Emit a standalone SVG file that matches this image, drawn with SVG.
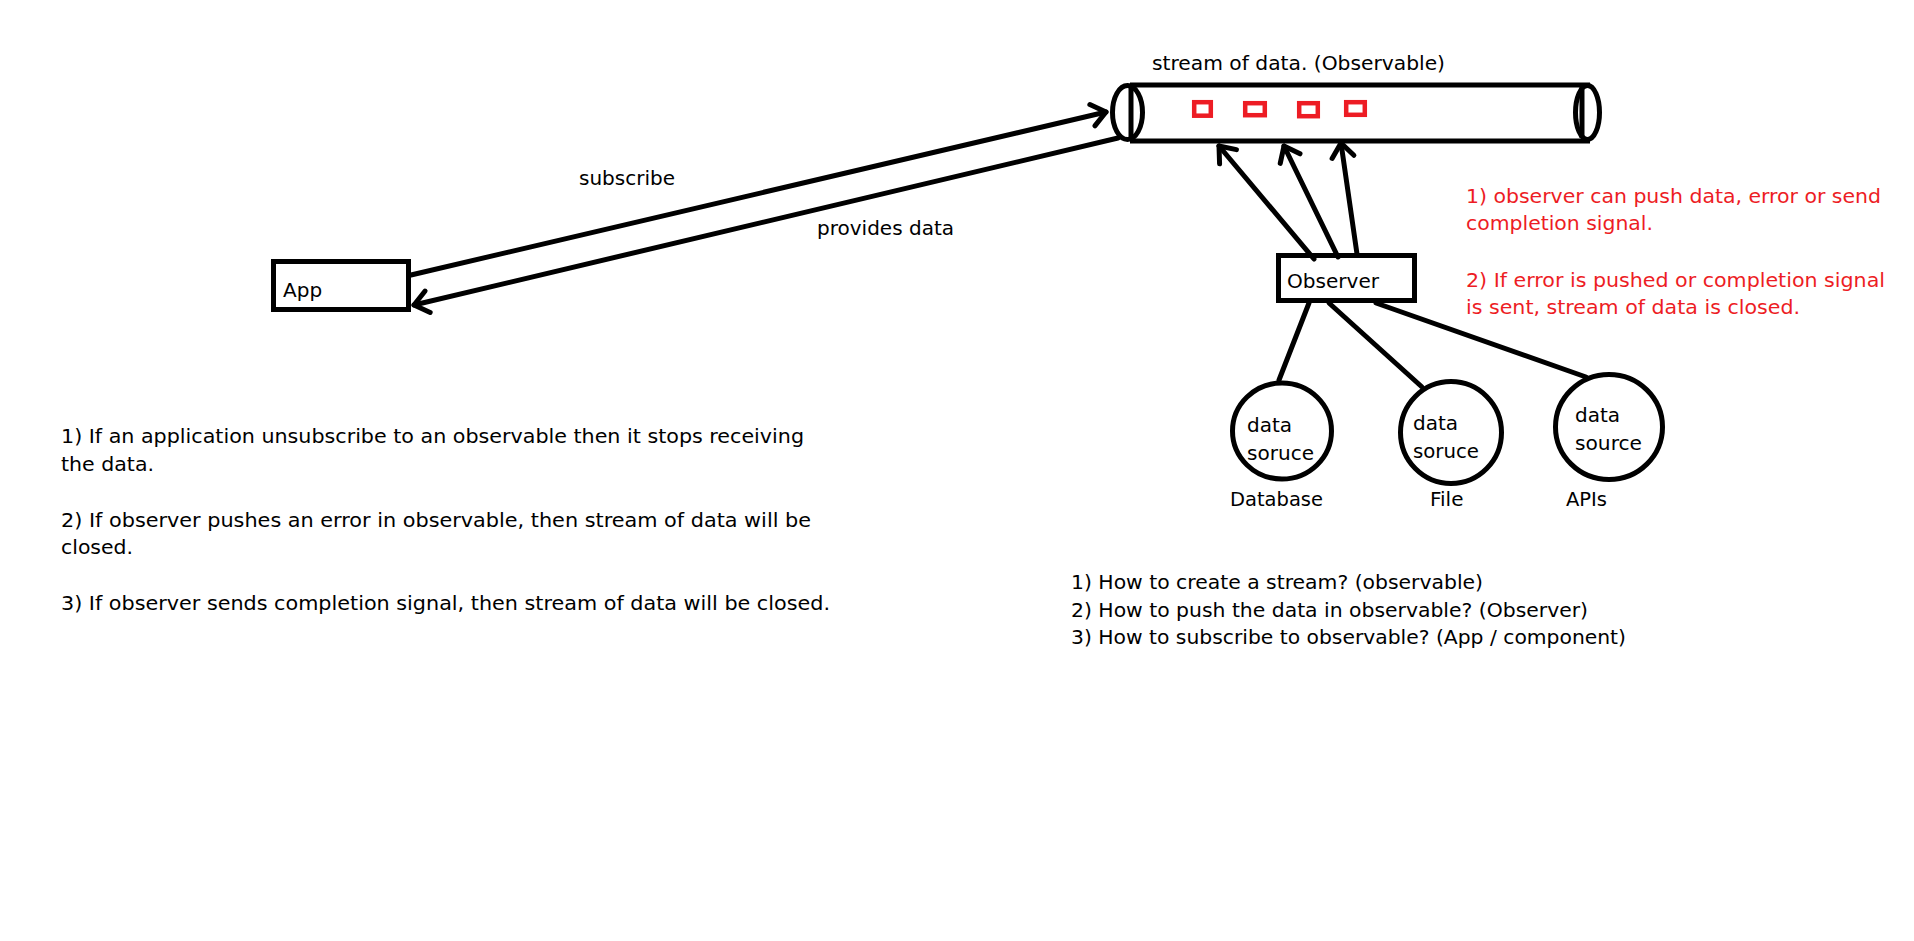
<svg xmlns="http://www.w3.org/2000/svg" width="1914" height="941" viewBox="0 0 1914 941">
<style>
.t{font-family:"DejaVu Sans","Liberation Sans",sans-serif;font-size:20px;fill:#000}
.r{fill:#ed1c24}
.s{fill:none;stroke:#000;stroke-width:5}
.c{fill:none;stroke:#000;stroke-width:5;stroke-linecap:round}
.red{fill:#fff;stroke:#ed1c24;stroke-width:4.5}
</style>
<defs>
<marker id="ah" markerUnits="userSpaceOnUse" viewBox="-20 -16 24 32" markerWidth="24" markerHeight="32" refX="0" refY="0" orient="auto" overflow="visible">
<path d="M-14,-11 L0,0 L-14,11" fill="none" stroke="#000" stroke-width="5" stroke-linejoin="round" stroke-linecap="round"/>
</marker>
</defs>
<rect width="1914" height="941" fill="#fff"/>
<g id="observable">
<line class="s" x1="1130" y1="85" x2="1590" y2="85"/>
<line class="s" x1="1130" y1="141" x2="1590" y2="141"/>
<ellipse class="s" cx="1127.5" cy="112.5" rx="15" ry="27" fill="#fff"/>
<line class="s" x1="1131" y1="86" x2="1131" y2="140"/>
<ellipse class="s" cx="1587.5" cy="112.5" rx="12" ry="27"/>
<line class="s" x1="1582" y1="87" x2="1582" y2="138"/>
<rect class="red" x="1194.2" y="102.2" width="16.6" height="13.5"/>
<rect class="red" x="1245.2" y="103.2" width="19.6" height="12"/>
<rect class="red" x="1299.2" y="103.2" width="18.6" height="13"/>
<rect class="red" x="1346.2" y="102.2" width="18.6" height="12.6"/>
<text class="t" x="1152" y="70" textLength="293" lengthAdjust="spacingAndGlyphs">stream of data. (Observable)</text>
</g>
<g id="app">
<rect class="s" x="273.5" y="261.5" width="135" height="48"/>
<text class="t" x="283" y="297">App</text>
</g>
<g id="observer">
<rect class="s" x="1278.5" y="255.5" width="136" height="45"/>
<text class="t" x="1287" y="288" textLength="92" lengthAdjust="spacingAndGlyphs">Observer</text>
</g>
<g id="ds-database">
<ellipse class="s" cx="1282" cy="431" rx="49.5" ry="48"/>
<text class="t" x="1247" y="432">data</text>
<text class="t" x="1247" y="460" textLength="67" lengthAdjust="spacingAndGlyphs">soruce</text>
<text class="t" x="1230" y="506" textLength="93" lengthAdjust="spacingAndGlyphs">Database</text>
</g>
<g id="ds-file">
<ellipse class="s" cx="1451" cy="432.5" rx="50.5" ry="51"/>
<text class="t" x="1413" y="430">data</text>
<text class="t" x="1413" y="458" textLength="66" lengthAdjust="spacingAndGlyphs">soruce</text>
<text class="t" x="1430" y="506">File</text>
</g>
<g id="ds-apis">
<ellipse class="s" cx="1609" cy="427" rx="53.5" ry="52.5"/>
<text class="t" x="1575" y="422">data</text>
<text class="t" x="1575" y="450" textLength="67" lengthAdjust="spacingAndGlyphs">source</text>
<text class="t" x="1566" y="506" textLength="41" lengthAdjust="spacingAndGlyphs">APIs</text>
</g>
<g id="connectors">
<line class="c" x1="411" y1="275" x2="1106" y2="112" marker-end="url(#ah)"/>
<line class="c" x1="1118" y1="138" x2="414" y2="305" marker-end="url(#ah)"/>
<line class="c" x1="1314" y1="259" x2="1219" y2="146" marker-end="url(#ah)"/>
<line class="c" x1="1338" y1="257" x2="1284" y2="146" marker-end="url(#ah)"/>
<line class="c" x1="1357" y1="254" x2="1341" y2="143" marker-end="url(#ah)"/>
<line class="c" x1="1309" y1="303" x2="1279" y2="380"/>
<line class="c" x1="1329" y1="303" x2="1422" y2="387"/>
<line class="c" x1="1376" y1="303" x2="1586" y2="377"/>
<text class="t" x="579" y="185" textLength="96" lengthAdjust="spacingAndGlyphs">subscribe</text>
<text class="t" x="817" y="235" textLength="137" lengthAdjust="spacingAndGlyphs">provides data</text>
</g>
<g id="notes-red">
<text class="t r" x="1466" y="203" textLength="415" lengthAdjust="spacingAndGlyphs">1) observer can push data, error or send</text>
<text class="t r" x="1466" y="230" textLength="187" lengthAdjust="spacingAndGlyphs">completion signal.</text>
<text class="t r" x="1466" y="287" textLength="419" lengthAdjust="spacingAndGlyphs">2) If error is pushed or completion signal</text>
<text class="t r" x="1466" y="314" textLength="334" lengthAdjust="spacingAndGlyphs">is sent, stream of data is closed.</text>
</g>
<g id="notes-left">
<text class="t" x="61" y="443" textLength="743" lengthAdjust="spacingAndGlyphs">1) If an application unsubscribe to an observable then it stops receiving</text>
<text class="t" x="61" y="471" textLength="93" lengthAdjust="spacingAndGlyphs">the data.</text>
<text class="t" x="61" y="527" textLength="750" lengthAdjust="spacingAndGlyphs">2) If observer pushes an error in observable, then stream of data will be</text>
<text class="t" x="61" y="554" textLength="72" lengthAdjust="spacingAndGlyphs">closed.</text>
<text class="t" x="61" y="610" textLength="769" lengthAdjust="spacingAndGlyphs">3) If observer sends completion signal, then stream of data will be closed.</text>
</g>
<g id="notes-right">
<text class="t" x="1071" y="589" textLength="412" lengthAdjust="spacingAndGlyphs">1) How to create a stream? (observable)</text>
<text class="t" x="1071" y="617" textLength="517" lengthAdjust="spacingAndGlyphs">2) How to push the data in observable? (Observer)</text>
<text class="t" x="1071" y="644" textLength="555" lengthAdjust="spacingAndGlyphs">3) How to subscribe to observable? (App / component)</text>
</g>
</svg>
